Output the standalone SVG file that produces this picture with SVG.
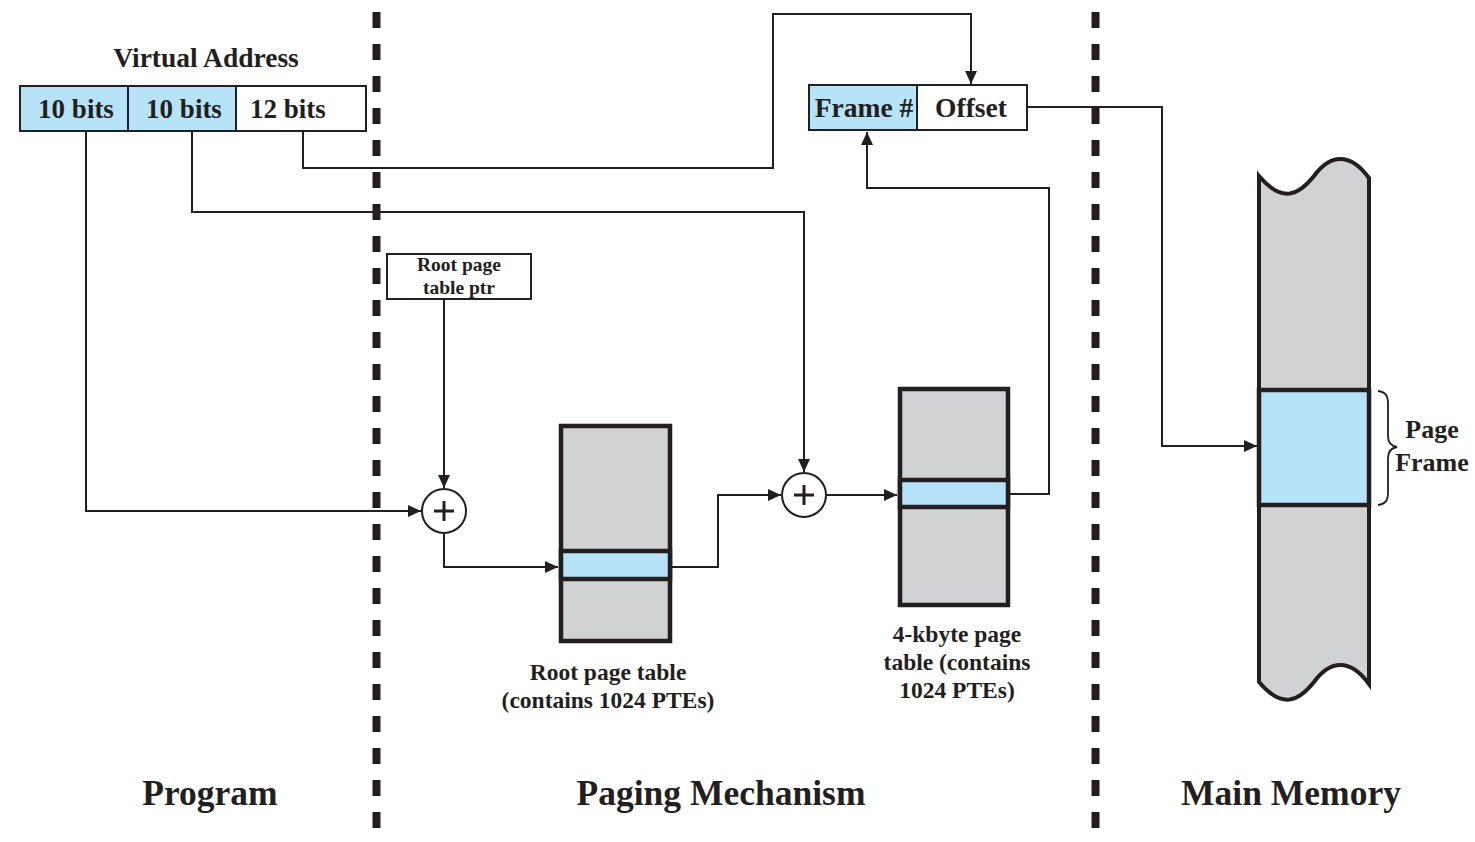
<svg xmlns="http://www.w3.org/2000/svg" width="1475" height="842" viewBox="0 0 1475 842">
<style>
text{font-family:"Liberation Serif","Times New Roman",serif;font-weight:bold;fill:#231f20}
.c{text-anchor:middle}
.ln{fill:none;stroke:#231f20;stroke-width:2}
.box{stroke:#231f20;stroke-width:2}
.tbl{fill:#d1d2d4;stroke:#231f20;stroke-width:4.5}
.band{fill:#b6e3f7;stroke:#231f20;stroke-width:4.5}
.blue{fill:#b6e3f7}
.white{fill:#ffffff}
.dash{stroke:#231f20;stroke-width:8;stroke-dasharray:16 16}
</style>
<defs>
<marker id="ah" markerUnits="userSpaceOnUse" markerWidth="14" markerHeight="12" refX="13" refY="6" orient="auto">
<path d="M0,0 L13,6 L0,12 z" fill="#231f20"/>
</marker>
</defs>
<rect width="1475" height="842" fill="#ffffff"/>

<g id="dividers">
<line class="dash" x1="376.5" y1="12" x2="376.5" y2="828"/>
<line class="dash" x1="1095.5" y1="12" x2="1095.5" y2="828"/>
</g>

<g id="connectors">
<path class="ln" marker-end="url(#ah)" d="M86,131 V511 H421"/>
<path class="ln" marker-end="url(#ah)" d="M192,131 V212 H804 V472"/>
<path class="ln" marker-end="url(#ah)" d="M303,131 V168 H773 V14 H971 V84"/>
<path class="ln" marker-end="url(#ah)" d="M444,300 V488"/>
<path class="ln" marker-end="url(#ah)" d="M444,533 V567 H558"/>
<path class="ln" marker-end="url(#ah)" d="M672,567 H718 V495 H781"/>
<path class="ln" marker-end="url(#ah)" d="M826,495 H897"/>
<path class="ln" marker-end="url(#ah)" d="M1010,494 H1049 V188 H867 V132"/>
<path class="ln" marker-end="url(#ah)" d="M1027,107 H1162 V446 H1257"/>
</g>

<g id="virtual-address">
<text class="c" x="206" y="67" font-size="27.5">Virtual Address</text>
<rect class="box blue" x="20" y="86" width="108" height="45"/>
<rect class="box blue" x="128" y="86" width="108" height="45"/>
<rect class="box white" x="236" y="86" width="130" height="45"/>
<text class="c" x="76" y="118" font-size="27">10 bits</text>
<text class="c" x="184" y="118" font-size="27">10 bits</text>
<text x="250" y="118" font-size="27">12 bits</text>
</g>

<g id="root-ptr">
<rect class="box white" x="387" y="254" width="144" height="45"/>
<text class="c" x="459" y="271" font-size="19.5">Root page</text>
<text class="c" x="459" y="294" font-size="19.5">table ptr</text>
</g>

<g id="adder1">
<circle cx="444" cy="511" r="22" fill="#ffffff" stroke="#231f20" stroke-width="2"/>
<path d="M434,511 H454 M444,501 V521" stroke="#231f20" stroke-width="3"/>
</g>

<g id="root-table">
<rect class="tbl" x="561" y="426" width="109" height="215"/>
<rect class="band" x="561" y="551" width="109" height="28"/>
<text class="c" x="608" y="680" font-size="23.5">Root page table</text>
<text class="c" x="608" y="708" font-size="23.5">(contains 1024 PTEs)</text>
</g>

<g id="adder2">
<circle cx="804" cy="495" r="22" fill="#ffffff" stroke="#231f20" stroke-width="2"/>
<path d="M794,495 H814 M804,485 V505" stroke="#231f20" stroke-width="3"/>
</g>

<g id="page-table">
<rect class="tbl" x="900" y="389" width="108" height="216"/>
<rect class="band" x="900" y="480" width="108" height="27"/>
<text class="c" x="957" y="642" font-size="23.5">4-kbyte page</text>
<text class="c" x="957" y="670" font-size="23.5">table (contains</text>
<text class="c" x="957" y="698" font-size="23.5">1024 PTEs)</text>
</g>

<g id="physical-address">
<rect class="box blue" x="809" y="85" width="108" height="45"/>
<rect class="box white" x="917" y="85" width="110" height="45"/>
<text class="c" x="864" y="117" font-size="27.5">Frame #</text>
<text class="c" x="971" y="117" font-size="27.5">Offset</text>
</g>

<g id="main-memory">
<path d="M1259,176 C1282,203 1298,196 1314,176 C1330,154 1350,152 1369,178 V684 C1350,658 1330,660 1314,682 C1298,702 1282,709 1259,682 Z" fill="#d1d2d4" stroke="#231f20" stroke-width="4"/>
<rect x="1259" y="390" width="110" height="115" fill="#b6e3f7" stroke="#231f20" stroke-width="4.5"/>
<path d="M1378,391 C1386,392 1388,396 1388,404 V436 C1388,443 1391,446 1397,447 C1391,448 1388,451 1388,458 V492 C1388,500 1386,504 1378,505" fill="none" stroke="#231f20" stroke-width="1.8"/>
<text class="c" x="1432" y="438" font-size="26">Page</text>
<text class="c" x="1432" y="471" font-size="26">Frame</text>
</g>

<g id="section-labels">
<text class="c" x="210" y="805" font-size="35.5">Program</text>
<text class="c" x="721" y="805" font-size="35.5">Paging Mechanism</text>
<text class="c" x="1291" y="805" font-size="35.5">Main Memory</text>
</g>
</svg>
